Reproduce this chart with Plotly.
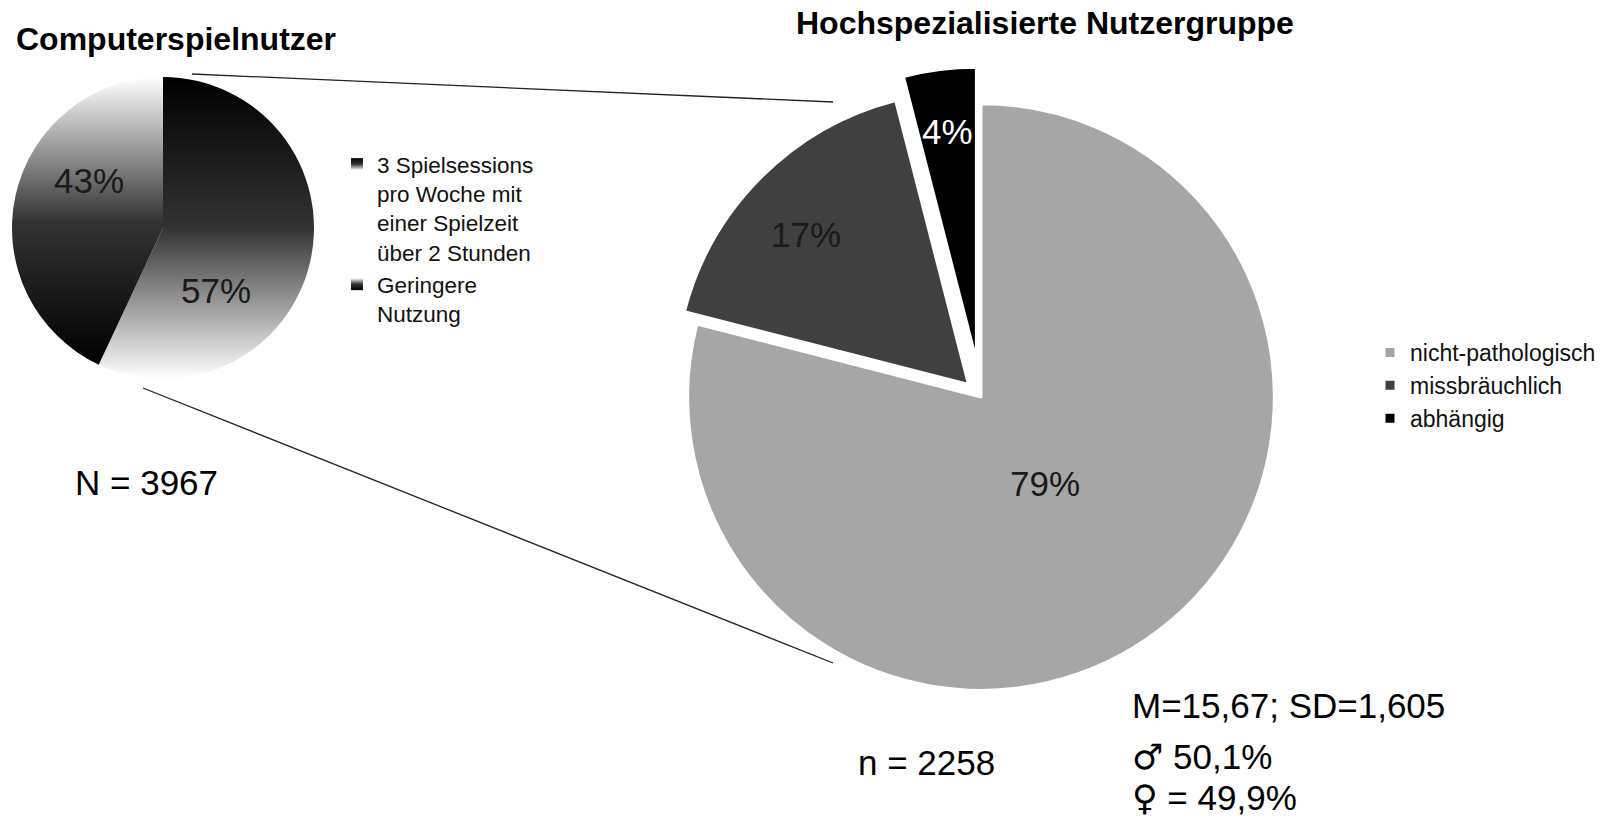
import json
import plotly.graph_objects as go

# Computerspielnutzer, N = 3967
small_labels = ["3 Spielsessions<br>pro Woche mit<br>einer Spielzeit<br>über 2 Stunden",
                "Geringere<br>Nutzung"]
small_values = [57, 43]

# Hochspezialisierte Nutzergruppe, n = 2258
big_labels = ["nicht-pathologisch", "missbräuchlich", "abhängig"]
big_values = [79, 17, 4]

stats_lines = ["M=15,67; SD=1,605",
               '<span style="font-family:DejaVu Sans">♂</span> 50,1%',
               '<span style="font-family:DejaVu Sans">♀</span> = 49,9%']

W, H = 1619, 819
FONT = "Liberation Sans, Arial, sans-serif"

def px(x):
    return x / W

def py(y):
    return 1 - y / H

fig = go.Figure()

fig.add_trace(go.Pie(
    labels=small_labels, values=small_values,
    sort=False, direction="clockwise", rotation=0,
    marker=dict(colors=["#3a3a3a", "#8a8a8a"], line=dict(width=0)),
    textinfo="none",
    domain=dict(x=[px(12), px(314)], y=[py(379), py(77)]),
    legend="legend", hoverinfo="skip",
))

fig.add_trace(go.Pie(
    labels=big_labels, values=big_values,
    sort=False, direction="clockwise", rotation=0,
    pull=[0, 0.06, 0.125],
    marker=dict(colors=["#a6a6a6", "#404040", "#000000"],
                line=dict(width=3, color="white")),
    textinfo="none",
    domain=dict(x=[px(651), px(1311)], y=[py(727), py(67)]),
    legend="legend2", hoverinfo="skip",
))

# percentage labels, placed where the original chart has them
label_spots = [
    (small_values[0], 216, 290, "#1a1a1a"),
    (small_values[1], 89, 180, "#1a1a1a"),
    (big_values[0], 1045, 483, "#1a1a1a"),
    (big_values[1], 806, 235, "#1a1a1a"),
    (big_values[2], 947, 131, "#ffffff"),
]
for v, x, y, c in label_spots:
    fig.add_annotation(text=f"{v}%", x=px(x), y=py(y), xref="paper", yref="paper",
                       xanchor="center", yanchor="middle", showarrow=False,
                       font=dict(size=35, color=c, family=FONT))

annos = [
    dict(text="<b>Computerspielnutzer</b>", x=px(14), y=py(39), size=32, xanchor="left"),
    dict(text="<b>Hochspezialisierte Nutzergruppe</b>", x=px(1045), y=py(23), size=32, xanchor="center"),
    dict(text="N = 3967", x=px(73), y=py(482), size=35, xanchor="left"),
    dict(text="n = 2258", x=px(856), y=py(762), size=35, xanchor="left"),
    dict(text=stats_lines[0], x=px(1130), y=py(705), size=35, xanchor="left"),
    dict(text=stats_lines[1], x=px(1130), y=py(757), size=35, xanchor="left"),
    dict(text=stats_lines[2], x=px(1130), y=py(798), size=35, xanchor="left"),
]
for a in annos:
    fig.add_annotation(text=a["text"], x=a["x"], y=a["y"], xref="paper", yref="paper",
                       xanchor=a["xanchor"], yanchor="middle", showarrow=False,
                       font=dict(size=a["size"], color="black", family=FONT))

# connector lines between the two pies
for x0, y0, x1, y1 in [(192, 74, 833, 102), (143, 388, 833, 663)]:
    fig.add_shape(type="line", xref="paper", yref="paper",
                  x0=px(x0), y0=py(y0), x1=px(x1), y1=py(y1),
                  line=dict(color="#222222", width=1.3))

fig.update_layout(
    width=W, height=H, autosize=False,
    margin=dict(l=0, r=0, t=0, b=0),
    paper_bgcolor="white", plot_bgcolor="white",
    font=dict(family=FONT, color="black"),
    showlegend=True,
    legend=dict(x=px(337), y=py(143), xanchor="left", yanchor="top",
                valign="top", font=dict(size=22.5, color="#111111"),
                bgcolor="rgba(0,0,0,0)", tracegroupgap=0),
    legend2=dict(x=px(1370), y=py(331), xanchor="left", yanchor="top",
                 font=dict(size=23, color="#111111"), bgcolor="rgba(0,0,0,0)"),
)

# vertical gradients (top -> bottom) for the two slices of the small pie
gradients = [["#000000", "#333333", "#ffffff"], ["#ffffff", "#333333", "#000000"]]
post = """
document.body.style.margin = '0';
var gd = document.getElementById('{plot_id}');
var grads = %s;
var NS = 'http://www.w3.org/2000/svg';
var svg = gd.querySelector('svg.main-svg');
var defs = svg.querySelector('defs');
grads.forEach(function(stops, i) {
  var lg = document.createElementNS(NS, 'linearGradient');
  lg.setAttribute('id', 'smallgrad' + i);
  lg.setAttribute('x1', '0'); lg.setAttribute('y1', '0');
  lg.setAttribute('x2', '0'); lg.setAttribute('y2', '1');
  stops.forEach(function(c, k) {
    var s = document.createElementNS(NS, 'stop');
    s.setAttribute('offset', (k / (stops.length - 1)));
    s.setAttribute('stop-color', c);
    lg.appendChild(s);
  });
  defs.appendChild(lg);
});
function paint() {
  var tr = gd.querySelectorAll('.pielayer g.trace')[0];
  if (tr) {
    tr.querySelectorAll('g.slice path.surface').forEach(function(p, i) {
      p.style.fill = 'url(#smallgrad' + i + ')';
    });
  }
  var lg = gd.querySelector('g.legend');
  if (lg) {
    lg.querySelectorAll('path.legendpie').forEach(function(p, i) {
      p.style.fill = 'url(#smallgrad' + i + ')';
    });
  }
}
paint();
gd.on('plotly_afterplot', paint);
""" % json.dumps(gradients)

fig.write_html("out.html", post_script=post, config={"displayModeBar": False})
